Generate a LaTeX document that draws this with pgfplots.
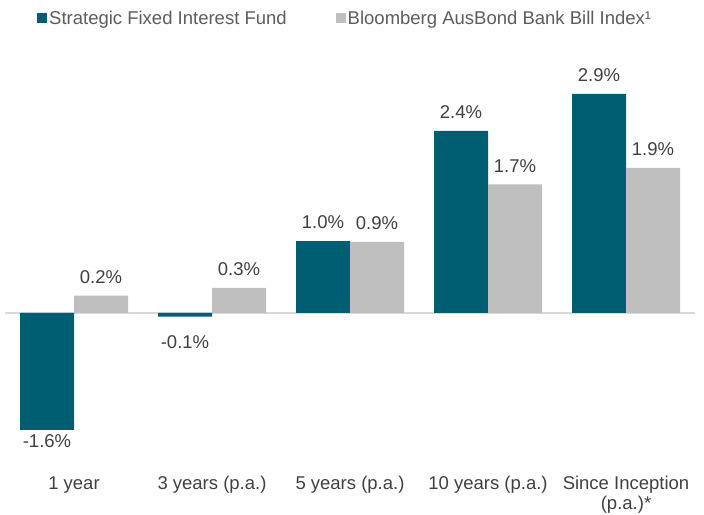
\documentclass[border=0pt]{standalone}
\usepackage{pgfplots}
\pgfplotsset{compat=1.18}
\usepackage{fontspec}
\setmainfont{Liberation Sans}
\usetikzlibrary{calc}
\definecolor{fund}{HTML}{005E73}
\definecolor{idx}{HTML}{BFBFBF}
\definecolor{txt}{HTML}{404040}
\definecolor{zl}{HTML}{D9D9D9}
\begin{document}
\begin{tikzpicture}
\begin{axis}[
  name=ax,
  scale only axis,
  width=690pt, height=420pt,
  xmin=-0.5, xmax=4.5,
  ymin=-2.08, ymax=3.48,
  ybar=0pt, bar width=54pt,
  axis line style={draw=none},
  tick style={draw=none},
  ytick=\empty,
  xtick={0,1,2,3,4},
  xticklabels={1 year,3 years (p.a.),5 years (p.a.),10 years (p.a.),{Since Inception\\(p.a.)*}},
  xticklabel style={align=center, text=txt, font=\fontsize{18.5}{20}\selectfont, inner sep=2pt},
  extra y ticks={0},
  extra y tick labels={},
  extra y tick style={grid=major, major grid style={draw=zl, line width=1.8pt}},
  point meta=explicit symbolic,
  visualization depends on={rawy \as \rawy},
  nodes near coords,
  every node near coord/.append style={text=txt, font=\fontsize{18.5}{20}\selectfont,
    /utils/exec={\pgfmathparse{\rawy<0}\ifnum\pgfmathresult=1 \def\myanc{north}\def\mysep{4pt}\else\def\myanc{south}\def\mysep{12pt}\fi},
    anchor=\myanc, inner sep=\mysep},
  legend columns=2,
  legend style={draw=none, at={(0,1)}, anchor=south west, xshift=29pt, yshift=20pt,
    font=\fontsize{18.5}{20}\selectfont, text=txt!85,
    /tikz/every even column/.append style={column sep=47pt}},
  legend image code/.code={\fill[#1,draw=none] (0pt,-5pt) rectangle (10pt,5pt);},
]
\addplot[fill=fund, draw=none] coordinates {
 (0,-1.55) [-1.6\%]
 (1,-0.05) [{\rule{0pt}{28pt}-0.1\%}]
 (2,0.95) [1.0\%]
 (3,2.41) [2.4\%]
 (4,2.90) [2.9\%]
};
\addplot[fill=idx, draw=none] coordinates {
 (0,0.23) [0.2\%]
 (1,0.33) [0.3\%]
 (2,0.94) [0.9\%]
 (3,1.70) [1.7\%]
 (4,1.92) [1.9\%]
};
\legend{Strategic Fixed Interest Fund, Bloomberg AusBond Bank Bill Index¹}
\end{axis}
\pgfresetboundingbox
\path ($(ax.south west)+(-5pt,-44pt)$) rectangle ($(ax.north east)+(9pt,50pt)$);
\end{tikzpicture}
\end{document}
